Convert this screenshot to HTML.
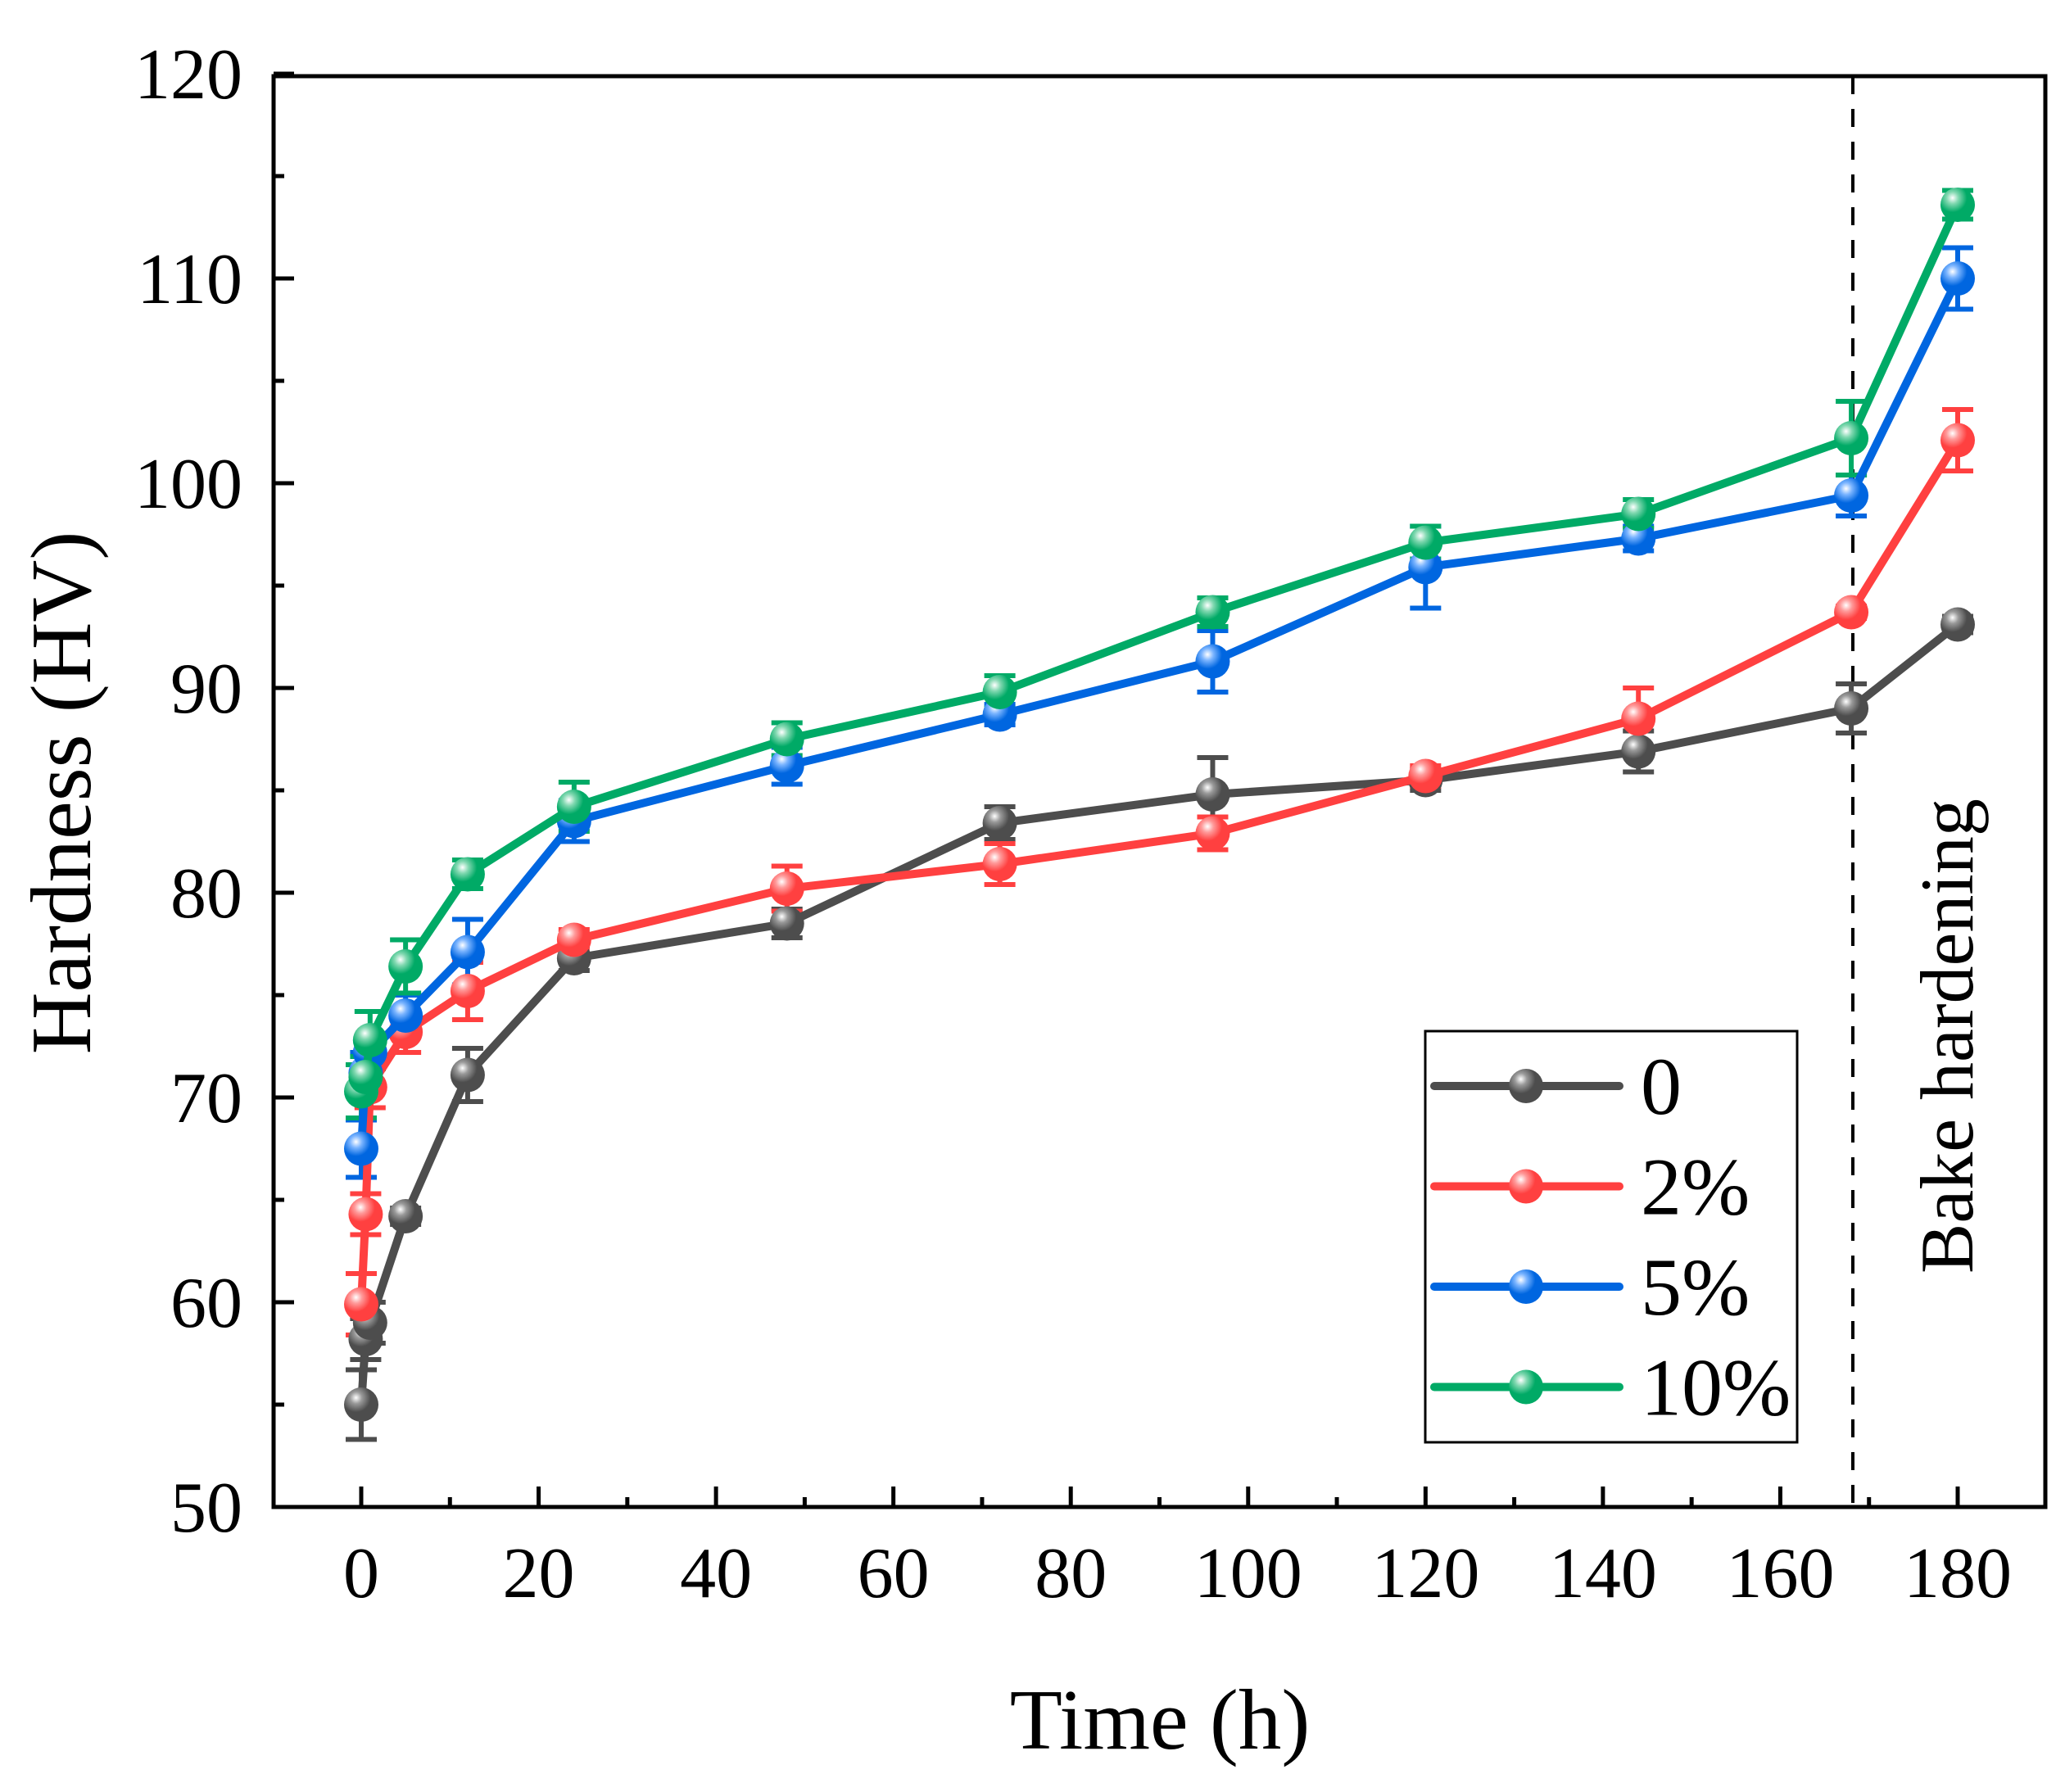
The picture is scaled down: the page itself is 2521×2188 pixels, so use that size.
<!DOCTYPE html>
<html><head><meta charset="utf-8">
<style>
html,body{margin:0;padding:0;background:#fff;}
svg{display:block;}
text{font-family:"Liberation Serif","Times New Roman",serif;}
</style></head>
<body>
<svg id="chart" width="2521" height="2188" viewBox="0 0 2521 2188" xmlns="http://www.w3.org/2000/svg">
<defs>
<radialGradient id="gBlack" cx="0.35" cy="0.3" r="0.7"><stop offset="0" stop-color="#fff"/><stop offset="0.25" stop-color="#999"/><stop offset="0.6" stop-color="#4d4d4d"/><stop offset="1" stop-color="#4d4d4d"/></radialGradient>
<radialGradient id="gRed" cx="0.35" cy="0.3" r="0.7"><stop offset="0" stop-color="#fff"/><stop offset="0.25" stop-color="#ff9a9a"/><stop offset="0.6" stop-color="#ff4040"/><stop offset="1" stop-color="#ff4040"/></radialGradient>
<radialGradient id="gBlue" cx="0.35" cy="0.3" r="0.7"><stop offset="0" stop-color="#fff"/><stop offset="0.25" stop-color="#7ab4ff"/><stop offset="0.6" stop-color="#0066e0"/><stop offset="1" stop-color="#0066e0"/></radialGradient>
<radialGradient id="gGreen" cx="0.35" cy="0.3" r="0.7"><stop offset="0" stop-color="#fff"/><stop offset="0.25" stop-color="#80d8b0"/><stop offset="0.6" stop-color="#00aa66"/><stop offset="1" stop-color="#00aa66"/></radialGradient>
</defs>
<g id="plot"></g>
<text x="1416" y="2135" text-anchor="middle" font-family="Liberation Serif, serif" font-size="105">Time (h)</text>
<text transform="translate(110,968) rotate(-90)" text-anchor="middle" font-family="Liberation Serif, serif" font-size="105">Hardness (HV)</text>
<text transform="translate(2408,1555) rotate(-90)" text-anchor="start" font-family="Liberation Serif, serif" font-size="92">Bake hardening</text>
</svg>
<script>
const times = [0, 0.5, 1, 5, 12, 24, 48, 72, 96, 120, 144, 168, 180];
const s0 = [55.0, 58.2, 59.0, 64.2, 71.1, 76.8, 78.5, 83.4, 84.8, 85.5, 86.9, 89.0, 93.1];
const e0 = [1.7, 1.0, 1.0, 0.4, 1.3, 0.6, 0.7, 0.8, 1.8, 0.5, 1.0, 1.2, 0.4];
const s2 = [59.9, 64.3, 70.5, 73.2, 75.2, 77.7, 80.2, 81.4, 82.9, 85.7, 88.5, 93.7, 102.1];
const e2 = [1.5, 1.0, 1.0, 1.0, 1.4, 0.5, 1.1, 1.0, 0.8, 0.5, 1.5, 0.3, 1.5];
const s5 = [67.5, 71.2, 72.2, 74.0, 77.1, 83.5, 86.2, 88.7, 91.3, 95.9, 97.3, 99.4, 110.0];
const e5 = [1.4, 1.0, 0.8, 1.0, 1.6, 1.0, 0.9, 0.5, 1.5, 2.0, 0.6, 1.0, 1.5];
const s10 = [70.3, 71.0, 72.8, 76.4, 80.9, 84.2, 87.5, 89.8, 93.7, 97.1, 98.5, 102.2, 113.6];
const e10 = [1.3, 1.0, 1.4, 1.3, 0.7, 1.2, 0.8, 0.8, 0.7, 0.8, 0.7, 1.8, 0.7];
const seriesNames = ["0", "2%", "5%", "10%"];
const xTicks = [0, 20, 40, 60, 80, 100, 120, 140, 160, 180];
const yTicks = [50, 60, 70, 80, 90, 100, 110, 120];

const NS = "http://www.w3.org/2000/svg";
const g = document.getElementById('plot');
const FONT = '"Liberation Serif", serif';
const X0 = 441, XS = (2390 - 441) / 180;
const Y0 = 1840, YS = 25;
function xp(v){ return X0 + v * XS; }
function yp(v){ return Y0 - (v - 50) * YS; }
function mk(tag, attrs, parent){ const e = document.createElementNS(NS, tag); for (const k in attrs) e.setAttribute(k, attrs[k]); (parent||g).appendChild(e); return e; }

const colors = ["#4d4d4d", "#ff4040", "#0066e0", "#00aa66"];
const grads = ["url(#gBlack)", "url(#gRed)", "url(#gBlue)", "url(#gGreen)"];
const allVals = [s0, s2, s5, s10];
const allErr = [e0, e2, e5, e10];

const frame = mk('rect', {x:334, y:93, width:2163, height:1747, fill:'none', stroke:'#000', 'stroke-width':5});



xTicks.forEach((t, i) => {
  const tk = mk('line', {x1:xp(t), x2:xp(t), y1:1840, y2:1815, stroke:'#000', 'stroke-width':5});
  
  
  if (i < xTicks.length - 1) {
    const mt = mk('line', {x1:xp(t+10), x2:xp(t+10), y1:1840, y2:1828, stroke:'#000', 'stroke-width':5});
    
    
  }
  const lb = mk('text', {x:xp(t), y:1950, 'text-anchor':'middle', 'font-size':88, 'font-family':FONT, fill:'#000'});
  lb.textContent = t;
  
  
});
yTicks.forEach((t, i) => {
  const tk = mk('line', {x1:334, x2:359, y1:yp(t), y2:yp(t), stroke:'#000', 'stroke-width':5});
  
  
  if (i < yTicks.length - 1) {
    const mt = mk('line', {x1:334, x2:347, y1:yp(t+5), y2:yp(t+5), stroke:'#000', 'stroke-width':5});
    
    
  }
  const lb = mk('text', {x:296, y:yp(t)+30, 'text-anchor':'end', 'font-size':88, 'font-family':FONT, fill:'#000'});
  lb.textContent = t;
  
  
});

const dl = mk('line', {x1:2262, x2:2262, y1:93, y2:1840, stroke:'#000', 'stroke-width':4, 'stroke-dasharray':'22,18'});



allVals.forEach((vals, si) => {
  const c = colors[si];
  const eg = mk('g', {});
  
  
  vals.forEach((v, i) => {
    const x = xp(times[i]), e = allErr[si][i];
    mk('line', {x1:x, x2:x, y1:yp(v+e), y2:yp(v-e), stroke:c, 'stroke-width':6}, eg);
    mk('line', {x1:x-19, x2:x+19, y1:yp(v+e), y2:yp(v+e), stroke:c, 'stroke-width':6}, eg);
    mk('line', {x1:x-19, x2:x+19, y1:yp(v-e), y2:yp(v-e), stroke:c, 'stroke-width':6}, eg);
  });
});
allVals.forEach((vals, si) => {
  const c = colors[si];
  const pts = vals.map((v, i) => xp(times[i]).toFixed(1) + ',' + yp(v).toFixed(1)).join(' ');
  const pl = mk('polyline', {points:pts, fill:'none', stroke:c, 'stroke-width':10, 'stroke-linejoin':'round'});
  
  
  vals.forEach((v, i) => {
    const m = mk('circle', {cx:xp(times[i]), cy:yp(v), r:21, fill:grads[si]});
    
    
  });
});

const lg = mk('g', {});


mk('rect', {x:1740, y:1259, width:454, height:502, fill:'#fff', stroke:'#000', 'stroke-width':3}, lg);
seriesNames.forEach((n, si) => {
  const y = 1326 + si * 122.5;
  const le = mk('g', {}, lg);
  
  
  mk('line', {x1:1751, x2:1977, y1:y, y2:y, stroke:colors[si], 'stroke-width':10, 'stroke-linecap':'round'}, le);
  mk('circle', {cx:1863, cy:y, r:21, fill:grads[si]}, le);
  const t = mk('text', {x:2003, y:y+34, 'font-size':100, 'font-family':FONT, fill:'#000'}, le);
  t.textContent = n;
});
</script>
</body></html>
